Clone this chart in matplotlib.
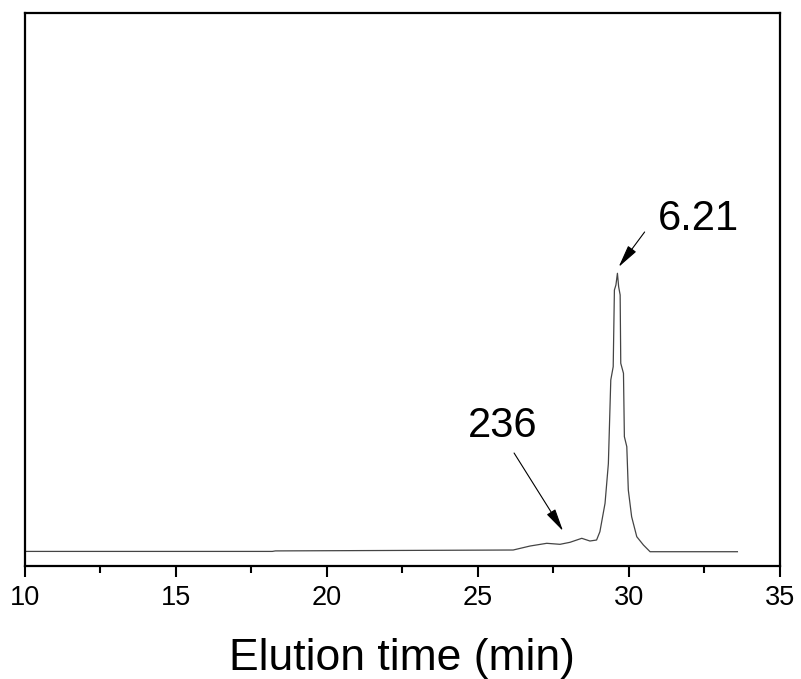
import matplotlib.pyplot as plt
from matplotlib.ticker import MultipleLocator

plt.rcParams['font.family'] = ['Liberation Sans', 'DejaVu Sans']

# elution time (min) and detector signal (arbitrary units)
time = [10.0, 18.2, 18.3, 26.17, 26.73, 27.28, 27.72, 28.05, 28.44, 28.71,
        28.93, 29.04, 29.21, 29.32, 29.40, 29.48, 29.52, 29.57, 29.62, 29.66,
        29.71, 29.73, 29.82, 29.85, 29.93, 29.98, 30.09, 30.26, 30.48, 30.70,
        33.59]
signal = [0.3, 0.3, 0.8, 1.7, 5.7, 8.4, 7.4, 9.4, 13.4, 10.7,
          11.7, 20.0, 48.4, 88.0, 171.7, 185.0, 261.7, 266.7, 278.4, 265.0,
          256.7, 188.4, 178.4, 115.0, 105.0, 61.7, 35.0, 15.0, 6.7, 0.0,
          0.0]

fig = plt.figure(figsize=(8.01, 6.79), dpi=100)
ax = fig.add_axes([0.0306, 0.1664, 0.9432, 0.8145])

ax.plot(time, signal, color='#444444', linewidth=0.9)

ax.set_xlim(10, 35)
ax.set_ylim(-14.3, 538.7)
ax.xaxis.set_major_locator(MultipleLocator(5))
ax.xaxis.set_minor_locator(MultipleLocator(2.5))
ax.tick_params(axis='x', which='major', direction='out', length=8, width=1.5,
               labelsize=19.5, pad=6)
ax.tick_params(axis='x', which='minor', direction='out', length=5, width=1.5)
ax.set_yticks([])
for s in ax.spines.values():
    s.set_linewidth(1.6)

ax.set_xlabel('Elution time (min)', fontsize=32, labelpad=19)

# peak annotations
arrow = dict(arrowstyle='-|>,head_length=1.0,head_width=0.22', color='black',
             lw=0.8, mutation_scale=14, shrinkA=0, shrinkB=0)
ax.text(30.96, 321.7, '6.21', fontsize=30, ha='left', va='baseline')
ax.annotate('', xy=(29.66, 284.7), xytext=(30.52, 319.7), arrowprops=arrow)
ax.text(24.67, 114.7, '236', fontsize=30, ha='left', va='baseline')
ax.annotate('', xy=(27.82, 20.7), xytext=(26.20, 98.7), arrowprops=arrow)

plt.savefig('out.png', dpi=100)
